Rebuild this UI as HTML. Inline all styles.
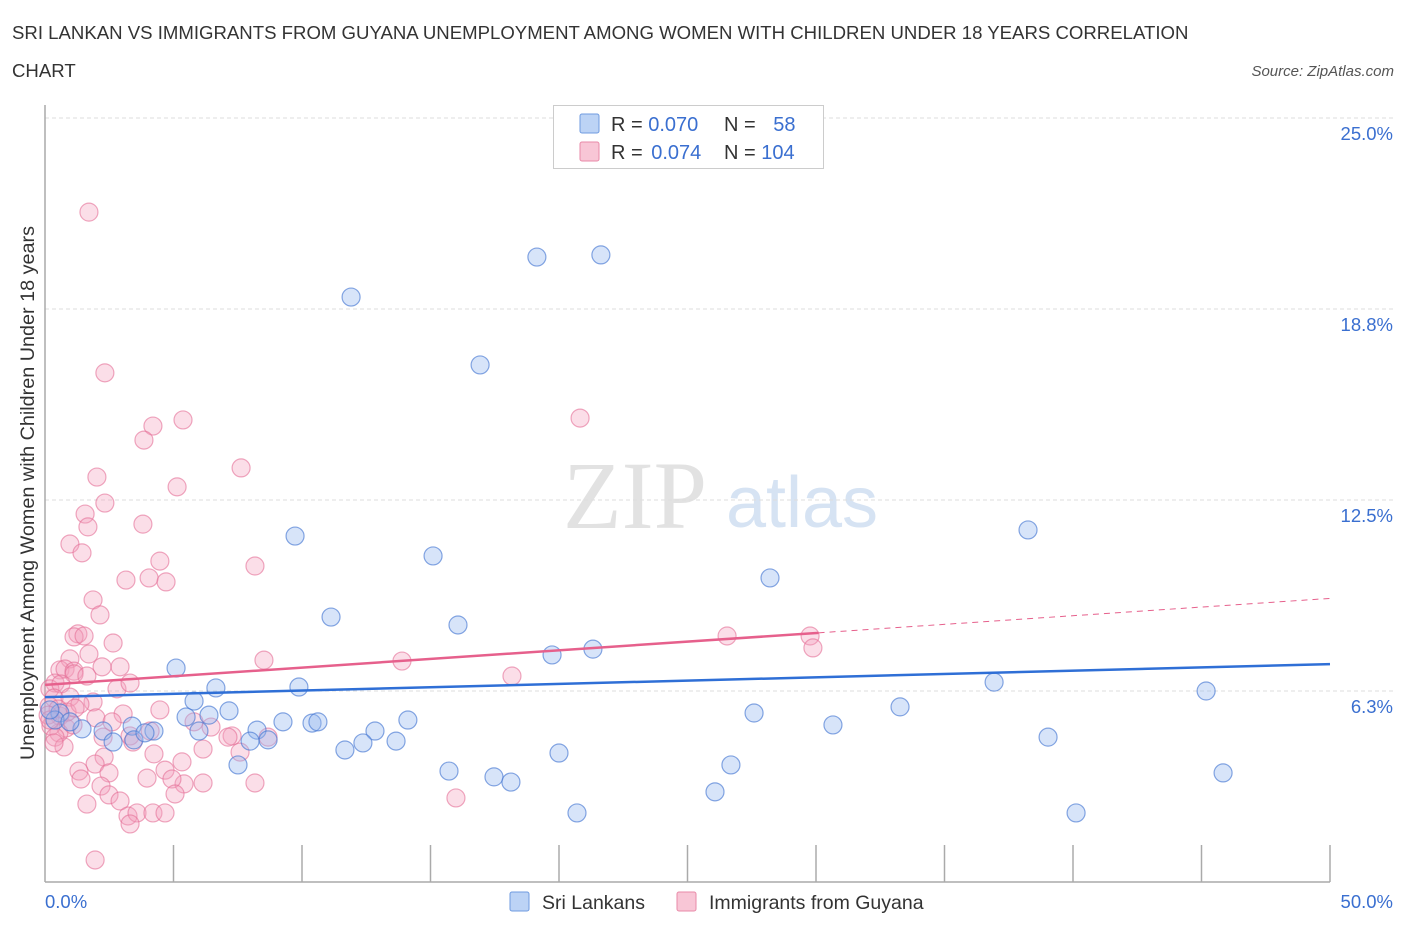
<!DOCTYPE html>
<html><head><meta charset="utf-8">
<style>
body{margin:0;background:#fff;font-family:"Liberation Sans",sans-serif;}
#wrap{position:relative;width:1406px;height:930px;overflow:hidden;}
</style></head>
<body>
<div id="wrap">
<svg id="chart" width="1406" height="930" xmlns="http://www.w3.org/2000/svg">
<text x="12" y="39" font-size="18.6" fill="#333">SRI LANKAN VS IMMIGRANTS FROM GUYANA UNEMPLOYMENT AMONG WOMEN WITH CHILDREN UNDER 18 YEARS CORRELATION</text>
<text x="12" y="77" font-size="18.6" fill="#333">CHART</text>
<text x="1394" y="76" font-size="15" fill="#555" font-style="italic" text-anchor="end">Source: ZipAtlas.com</text>
<text x="635" y="528" font-size="96" fill="#e2e2e2" font-family="Liberation Serif" text-anchor="middle">ZIP</text>
<text x="802" y="527" font-size="72" fill="#d6e3f3" text-anchor="middle">atlas</text>
<g id="grid"></g>
<g id="axes"></g>
<g id="pts"></g>
<g id="trends"></g>
<text transform="translate(34,493) rotate(-90)" font-size="19.8" fill="#333" text-anchor="middle">Unemployment Among Women with Children Under 18 years</text>
<g>
<rect x="553.5" y="105.5" width="270" height="63" fill="#fff" stroke="#ccc"/>
<rect x="580" y="114" width="19" height="19" fill="#bcd3f5" stroke="#6f9be0" rx="2"/>
<rect x="580" y="142" width="19" height="19" fill="#f8c6d6" stroke="#e98aa8" rx="2"/>
<text x="611" y="131" font-size="20" fill="#333">R = <tspan fill="#3a6fd0">0.070</tspan></text>
<text x="724" y="131" font-size="20" fill="#333">N = <tspan fill="#3a6fd0" dx="12">58</tspan></text>
<text x="611" y="159" font-size="20" fill="#333">R = <tspan fill="#3a6fd0" dx="3">0.074</tspan></text>
<text x="724" y="159" font-size="20" fill="#333">N = <tspan fill="#3a6fd0">104</tspan></text>
</g>
<g>
<rect x="510" y="892" width="19" height="19" fill="#bcd3f5" stroke="#6f9be0" rx="2"/>
<text x="542" y="909" font-size="19.5" fill="#333">Sri Lankans</text>
<rect x="677" y="892" width="19" height="19" fill="#f8c6d6" stroke="#e98aa8" rx="2"/>
<text x="709" y="909" font-size="19.5" fill="#333">Immigrants from Guyana</text>
</g>
</svg>
</div>
<script>
const yTicks=[25.0,18.75,12.5,6.25];
const yTickLabels=["25.0%","18.8%","12.5%","6.3%"];
const xTickCount=10;
const xLabels=["0.0%","50.0%"];
const blueX=[19.14,21.63,11.91,16.93,9.73,15.10,38.25,28.21,11.13,16.07,19.73,21.32,5.10,6.65,9.88,36.93,45.18,5.80,5.49,6.38,7.16,9.26,10.39,10.62,14.12,12.84,8.25,27.59,30.66,33.27,39.03,5.99,4.24,3.39,2.26,1.44,2.65,3.46,3.89,7.98,8.68,11.67,12.37,13.66,20.0,15.72,17.47,18.13,7.51,26.69,26.07,20.70,40.12,45.84,0.58,0.39,0.97,0.19];
const blueY=[20.45,20.52,19.14,16.92,11.32,10.67,11.52,9.95,8.67,8.41,7.43,7.62,7.00,6.35,6.38,6.54,6.25,5.92,5.40,5.46,5.60,5.24,5.20,5.24,5.30,4.94,4.97,5.53,5.14,5.73,4.74,4.94,4.94,5.10,4.94,5.01,4.58,4.65,4.88,4.61,4.65,4.32,4.55,4.61,4.22,3.63,3.44,3.27,3.83,3.83,2.95,2.26,2.26,3.57,5.53,5.30,5.24,5.63];
const pinkX=[1.71,2.33,5.37,4.20,3.85,20.82,7.63,2.02,5.14,2.33,1.56,1.67,3.81,0.97,1.44,4.47,8.17,3.15,4.05,4.71,1.87,2.14,1.28,1.13,1.52,2.65,1.71,0.97,8.52,13.89,2.92,0.58,0.78,1.13,2.22,1.13,1.63,26.54,29.77,29.88,18.17,0.39,0.19,0.62,2.80,3.31,1.87,0.35,0.16,4.47,3.04,1.98,0.58,0.82,0.54,0.23,0.39,1.09,2.26,4.09,6.46,5.80,3.31,3.42,7.28,7.12,8.68,0.74,0.35,4.24,7.59,6.15,2.30,1.95,5.33,2.49,4.67,1.32,1.40,3.97,5.41,6.15,8.17,4.94,2.18,2.49,5.06,2.92,1.63,3.23,3.58,4.20,4.67,3.31,15.99,1.95,0.97,0.51,0.12,0.86,1.36,1.17,0.19,2.61];
const pinkY=[21.92,16.66,15.12,14.92,14.46,15.18,13.55,13.25,12.93,12.40,12.04,11.62,11.71,11.06,10.77,10.50,10.34,9.88,9.95,9.82,9.23,8.74,8.12,8.02,8.05,7.82,7.46,7.30,7.26,7.23,7.04,6.94,6.97,6.90,7.04,6.81,6.74,8.05,8.05,7.66,6.74,6.51,6.32,6.48,6.32,6.51,5.89,6.02,5.76,5.63,5.50,5.37,5.43,5.04,4.88,5.10,4.74,5.14,4.74,4.94,5.07,5.24,4.78,4.58,4.78,4.74,4.74,4.42,4.55,4.19,4.25,4.35,4.09,3.86,3.93,3.57,3.66,3.63,3.37,3.40,3.21,3.24,3.24,3.37,3.14,2.85,2.88,2.65,2.55,2.16,2.26,2.26,2.26,1.90,2.75,0.72,6.05,5.66,5.46,5.56,5.82,5.69,5.30,5.24];
const blueTrend=[6.05,7.13];
const pinkTrend=[6.45,9.28];
const pinkSolidEnd=30.1;

const NS="http://www.w3.org/2000/svg";
const X0=45,X1=1330,Y0=882,PER=30.56;
function sx(v){return X0+(v/50)*(X1-X0);}
function sy(v){return Y0-v*PER;}
function mk(tag,attrs,parent){const e=document.createElementNS(NS,tag);for(const k in attrs)e.setAttribute(k,attrs[k]);parent.appendChild(e);return e;}
const grid=document.getElementById('grid'),axes=document.getElementById('axes'),pts=document.getElementById('pts'),tr=document.getElementById('trends');
yTicks.forEach((t,i)=>{
  const l=mk('line',{x1:X0,x2:1395,y1:sy(t),y2:sy(t),stroke:'#ddd','stroke-dasharray':'4 3'},grid);
  
  
  const tx=mk('text',{x:1393,y:sy(t)+22,'font-size':18.5,fill:'#3a6fd0','text-anchor':'end'},grid);
  tx.textContent=yTickLabels[i];
  
  
});
const ya=mk('line',{x1:X0,x2:X0,y1:105,y2:Y0,stroke:'#aaa','stroke-width':1.5},axes);


const xa=mk('line',{x1:X0,x2:X1,y1:Y0,y2:Y0,stroke:'#aaa','stroke-width':1.5},axes);


for(let i=1;i<=xTickCount;i++){
  const v=i*50/xTickCount;
  const t=mk('line',{x1:sx(v),x2:sx(v),y1:845,y2:Y0,stroke:'#aaa','stroke-width':1.5},axes);
  
  
}
const xl0=mk('text',{x:45,y:908,'font-size':18.5,fill:'#3a6fd0'},axes);xl0.textContent=xLabels[0];


const xl1=mk('text',{x:1393,y:908,'font-size':18.5,fill:'#3a6fd0','text-anchor':'end'},axes);xl1.textContent=xLabels[1];


pinkX.forEach((x,i)=>{
  const c=mk('circle',{cx:sx(x),cy:sy(pinkY[i]),r:9,fill:'rgba(244,160,188,0.35)',stroke:'rgba(228,110,150,0.6)','stroke-width':1.2},pts);
  
  
});
blueX.forEach((x,i)=>{
  const c=mk('circle',{cx:sx(x),cy:sy(blueY[i]),r:9,fill:'rgba(150,185,240,0.38)',stroke:'rgba(70,120,210,0.65)','stroke-width':1.2},pts);
  
  
});
const bl=mk('line',{x1:sx(0),y1:sy(blueTrend[0]),x2:sx(50),y2:sy(blueTrend[1]),stroke:'#2f6fd6','stroke-width':2.5},tr);


const pm=pinkTrend[0]+(pinkTrend[1]-pinkTrend[0])*pinkSolidEnd/50;
const pl=mk('line',{x1:sx(0),y1:sy(pinkTrend[0]),x2:sx(pinkSolidEnd),y2:sy(pm),stroke:'#e6608c','stroke-width':2.5},tr);


const pd=mk('line',{x1:sx(pinkSolidEnd),y1:sy(pm),x2:sx(50),y2:sy(pinkTrend[1]),stroke:'#e6608c','stroke-width':1,'stroke-dasharray':'6 5'},tr);


</script>
</body></html>
